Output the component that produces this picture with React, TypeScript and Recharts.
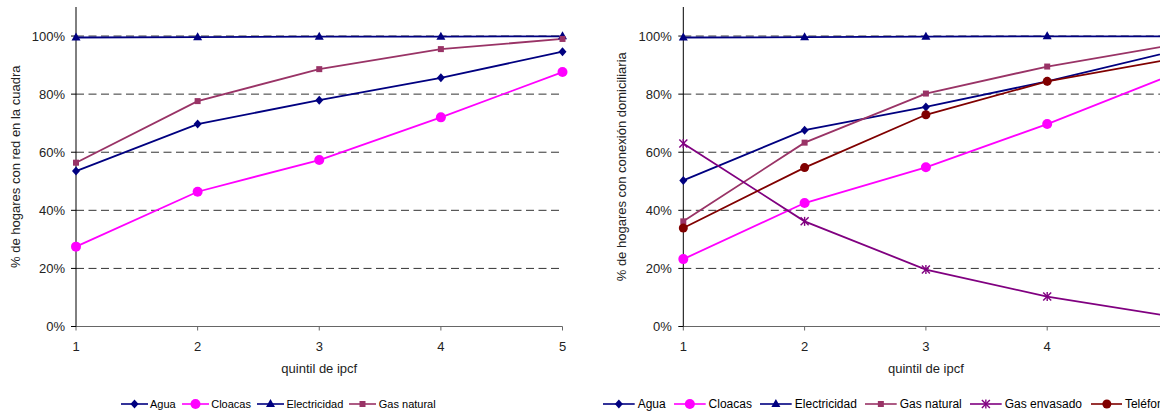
import React from 'react';
import { LineChart, Line, XAxis, YAxis, CartesianGrid, Legend } from 'recharts';

// Quintiles of per-capita family income (ipcf)
const QUINTILES = [1, 2, 3, 4, 5];
const Y_TICKS = [0, 20, 40, 60, 80, 100];
const GRID_VALUES = [20, 40, 60, 80, 100];

// Households with network in their block (%)
const RED_AGUA = [53.5, 69.7, 77.9, 85.6, 94.6];
const RED_CLOACAS = [27.5, 46.4, 57.3, 72.0, 87.6];
const RED_ELECTRICIDAD = [99.5, 99.6, 99.8, 99.8, 99.9];
const RED_GAS_NATURAL = [56.4, 77.6, 88.6, 95.5, 99.0];

// Households with a home connection (%)
const CON_AGUA = [50.3, 67.6, 75.6, 84.4, 94.4];
const CON_CLOACAS = [23.2, 42.5, 54.8, 69.7, 86.2];
const CON_ELECTRICIDAD = [99.5, 99.6, 99.8, 99.9, 99.9];
const CON_GAS_NATURAL = [36.2, 63.3, 80.2, 89.5, 96.7];
const CON_GAS_ENVASADO = [63.0, 36.2, 19.6, 10.3, 3.6];
const CON_TELEFONO = [33.9, 54.7, 72.9, 84.4, 91.9];

const FONT = '"Liberation Sans", Arial, Helvetica, sans-serif';

type Shape = 'diamond' | 'circle' | 'triangle' | 'square' | 'star' | 'dot';
type SeriesStyle = { name: string; color: string; shape: Shape };

const SERIES: Record<string, SeriesStyle> = {
  agua: { name: 'Agua', color: '#000080', shape: 'diamond' },
  cloacas: { name: 'Cloacas', color: '#FF00FF', shape: 'circle' },
  electricidad: { name: 'Electricidad', color: '#000080', shape: 'triangle' },
  gasNatural: { name: 'Gas natural', color: '#993366', shape: 'square' },
  gasEnvasado: { name: 'Gas envasado', color: '#800080', shape: 'star' },
  telefono: { name: 'Teléfono', color: '#800000', shape: 'dot' },
};

const leftData = QUINTILES.map((q, i) => ({
  q,
  agua: RED_AGUA[i],
  cloacas: RED_CLOACAS[i],
  electricidad: RED_ELECTRICIDAD[i],
  gasNatural: RED_GAS_NATURAL[i],
}));

const rightData = QUINTILES.map((q, i) => ({
  q,
  agua: CON_AGUA[i],
  cloacas: CON_CLOACAS[i],
  electricidad: CON_ELECTRICIDAD[i],
  gasNatural: CON_GAS_NATURAL[i],
  gasEnvasado: CON_GAS_ENVASADO[i],
  telefono: CON_TELEFONO[i],
}));

function marker(shape: Shape, color: string, cx: number, cy: number) {
  switch (shape) {
    case 'diamond':
      return (
        <polygon
          points={`${cx},${cy - 4.5} ${cx + 4},${cy} ${cx},${cy + 4.5} ${cx - 4},${cy}`}
          fill={color}
        />
      );
    case 'circle':
      return <circle cx={cx} cy={cy} r={5} fill={color} />;
    case 'triangle':
      return (
        <polygon
          points={`${cx},${cy - 5} ${cx + 4.5},${cy + 3} ${cx - 4.5},${cy + 3}`}
          fill={color}
        />
      );
    case 'square':
      return <rect x={cx - 3} y={cy - 3} width={6} height={6} fill={color} />;
    case 'star':
      return (
        <g stroke={color} strokeWidth={1.4}>
          <line x1={cx - 4} y1={cy - 4} x2={cx + 4} y2={cy + 4} />
          <line x1={cx - 4} y1={cy + 4} x2={cx + 4} y2={cy - 4} />
          <line x1={cx} y1={cy - 4.5} x2={cx} y2={cy + 4.5} />
        </g>
      );
    case 'dot':
    default:
      return <circle cx={cx} cy={cy} r={4.5} fill={color} />;
  }
}

const dotRenderer = (key: string) => (p: any) => {
  const s = SERIES[key];
  return (
    <g key={`${key}-${p.index}`}>{marker(s.shape, s.color, p.cx, p.cy)}</g>
  );
};

type LegendRowProps = {
  keys: string[];
  fontSize: number;
  lineLen: number;
  gap: number;
  itemGap: number;
};

const LegendRow = ({ keys, fontSize, lineLen, gap, itemGap }: LegendRowProps) => (
  <div
    style={{
      display: 'flex',
      alignItems: 'center',
      height: 20,
      whiteSpace: 'nowrap',
      fontSize,
      fontFamily: FONT,
      color: '#000',
    }}
  >
    {keys.map((k) => {
      const s = SERIES[k];
      return (
        <div key={k} style={{ display: 'flex', alignItems: 'center', marginRight: itemGap }}>
          <svg width={lineLen} height={12} style={{ display: 'block' }}>
            <line x1={0} x2={lineLen} y1={6} y2={6} stroke={s.color} strokeWidth={1.6} />
            {marker(s.shape, s.color, lineLen / 2, 6)}
          </svg>
          <span style={{ marginLeft: gap }}>{s.name}</span>
        </div>
      );
    })}
  </div>
);

const yLabel = (text: string, baselineX: number) => (p: any) => {
  const vb = p.viewBox ?? p;
  const cy = vb.y + vb.height / 2;
  return (
    <text
      x={baselineX}
      y={cy}
      transform={`rotate(-90 ${baselineX} ${cy})`}
      textAnchor="middle"
      fontSize={13}
      fontFamily={FONT}
      fill="#222"
    >
      {text}
    </text>
  );
};

const pct = (v: number) => `${v}%`;

const tickStyle = { fill: '#222', fontSize: 13, fontFamily: FONT };

const LEFT_KEYS = ['agua', 'cloacas', 'electricidad', 'gasNatural'];
const RIGHT_KEYS = ['agua', 'cloacas', 'electricidad', 'gasNatural', 'gasEnvasado', 'telefono'];

function renderLines(keys: string[]) {
  return keys.map((k) => (
    <Line
      key={k}
      type="linear"
      dataKey={k}
      name={SERIES[k].name}
      stroke={SERIES[k].color}
      strokeWidth={1.8}
      dot={dotRenderer(k)}
      activeDot={false}
      isAnimationActive={false}
    />
  ));
}

const xLabel = {
  value: 'quintil de ipcf',
  position: 'insideBottom' as const,
  offset: 21,
  fontSize: 13,
  fontFamily: FONT,
  fill: '#222',
};

export default function App() {
  return (
    <div
      style={{
        position: 'absolute',
        left: 0,
        top: 0,
        width: 1170,
        height: 417,
        overflow: 'hidden',
        background: '#fff',
      }}
    >
      <div style={{ position: 'absolute', left: 0, top: 0 }}>
        <LineChart
          width={600}
          height={417}
          data={leftData}
          margin={{ top: 7, right: 37.5, left: 0, bottom: 3 }}
        >
          <CartesianGrid
            vertical={false}
            horizontalValues={GRID_VALUES}
            stroke="#333"
            strokeDasharray="8 4.5"
          />
          <XAxis
            dataKey="q"
            type="number"
            domain={[1, 5]}
            ticks={QUINTILES}
            interval={0}
            height={67.5}
            tickSize={4}
            tickMargin={11}
            tick={tickStyle}
            axisLine={{ stroke: '#666' }}
            tickLine={{ stroke: '#666' }}
            label={xLabel}
          />
          <YAxis
            type="number"
            domain={[0, 110]}
            ticks={Y_TICKS}
            interval={0}
            width={76}
            tickSize={5}
            tickMargin={6}
            tickFormatter={pct}
            tick={tickStyle}
            axisLine={{ stroke: '#000' }}
            tickLine={{ stroke: '#000' }}
            label={yLabel('% de hogares con red en la cuadra', 19.5)}
          />
          <Legend
            verticalAlign="bottom"
            align="left"
            wrapperStyle={{ left: 120.5, bottom: 3, width: 470 }}
            content={() => (
              <LegendRow keys={LEFT_KEYS} fontSize={11} lineLen={27} gap={2.5} itemGap={6} />
            )}
          />
          {renderLines(LEFT_KEYS)}
        </LineChart>
      </div>

      <div
        style={{
          position: 'absolute',
          left: 600,
          top: 0,
          width: 560,
          height: 417,
          overflow: 'hidden',
        }}
      >
        <LineChart
          width={612}
          height={417}
          data={rightData}
          margin={{ top: 7, right: 43.5, left: 0, bottom: 3 }}
        >
          <CartesianGrid
            vertical={false}
            horizontalValues={GRID_VALUES}
            stroke="#333"
            strokeDasharray="8 4.5"
          />
          <XAxis
            dataKey="q"
            type="number"
            domain={[1, 5]}
            ticks={QUINTILES}
            interval={0}
            height={67.5}
            tickSize={4}
            tickMargin={11}
            tick={tickStyle}
            axisLine={{ stroke: '#666' }}
            tickLine={{ stroke: '#666' }}
            label={xLabel}
          />
          <YAxis
            type="number"
            domain={[0, 110]}
            ticks={Y_TICKS}
            interval={0}
            width={83.3}
            tickSize={5}
            tickMargin={6.5}
            tickFormatter={pct}
            tick={tickStyle}
            axisLine={{ stroke: '#000' }}
            tickLine={{ stroke: '#000' }}
            label={yLabel('% de hogares con conexión domiciliaria', 26)}
          />
          <Legend
            verticalAlign="bottom"
            align="left"
            wrapperStyle={{ left: 3.3, bottom: 3, width: 700 }}
            content={() => (
              <LegendRow keys={RIGHT_KEYS} fontSize={12} lineLen={31.7} gap={2.7} itemGap={8.5} />
            )}
          />
          {renderLines(RIGHT_KEYS)}
        </LineChart>
      </div>
    </div>
  );
}
